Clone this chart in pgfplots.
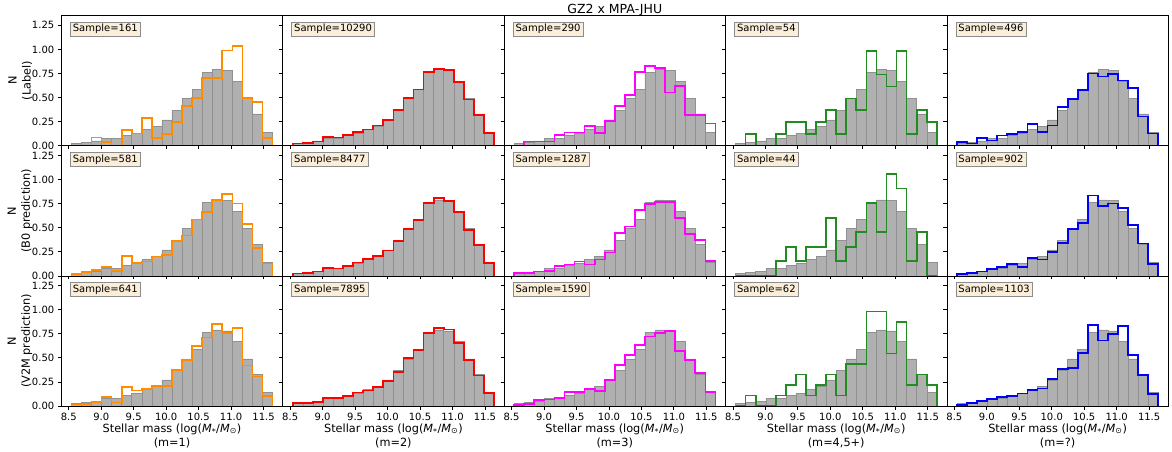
\documentclass[border=0pt]{standalone}
\usepackage{pgfplots}
\pgfplotsset{compat=1.18}
\usepackage{pgfplotstable}
\usepgfplotslibrary{groupplots}
\usepackage{fontspec}
\setmainfont{DejaVu Sans}

\definecolor{corange}{HTML}{FF8C00}
\definecolor{cred}{HTML}{FF0000}
\definecolor{cmag}{HTML}{FF00FF}
\definecolor{cgreen}{HTML}{228B22}
\definecolor{cblue}{HTML}{0000FF}
\definecolor{greyfill}{HTML}{B0B0B0}
\definecolor{greyedge}{HTML}{909090}
\definecolor{wheatbox}{HTML}{FAEED9}

% all galaxies (grey), left bin edges + last edge
\pgfplotstableread{
x      g
8.540  0.024
8.695  0.035
8.850  0.050
9.005  0.080
9.160  0.080
9.315  0.110
9.470  0.130
9.625  0.170
9.780  0.200
9.935  0.270
10.090 0.370
10.245 0.490
10.400 0.585
10.555 0.765
10.710 0.790
10.865 0.780
11.020 0.670
11.175 0.490
11.330 0.330
11.485 0.140
11.640 0.140
}\grey

% step histograms: l = Label, p = B0 prediction, v = V2M prediction; columns 1..5 = m
\pgfplotstableread{
x      l1    l2    l3    l4    l5    p1    p2    p3    p4    p5    v1    v2    v3    v4    v5
8.540  0     0     0     0     0     0     0     0     0     0     0     0     0     0     0
8.540  0     0.025 0     0     0.040 0.017 0.024 0.028 0     0.017 0.017 0.028 0.007 0     0.014
8.695  0     0.030 0.045 0.123 0.024 0.040 0.030 0.030 0     0.030 0.020 0.033 0.024 0.109 0.028
8.850  0.085 0.045 0.045 0     0.083 0.060 0.045 0.045 0     0.045 0.045 0.042 0.062 0     0.052
9.005  0.040 0.090 0.045 0     0.055 0.093 0.083 0.052 0     0.073 0.097 0.080 0.069 0     0.076
9.160  0     0.087 0.114 0.123 0.107 0.050 0.076 0.104 0.151 0.093 0.035 0.080 0.083 0.109 0.097
9.315  0.166 0.110 0.138 0.246 0.120 0.210 0.104 0.118 0.302 0.125 0.200 0.104 0.145 0.218 0.107
9.470  0.128 0.140 0.138 0.246 0.145 0.135 0.140 0.149 0.151 0.090 0.160 0.140 0.145 0.327 0.131
9.625  0.290 0.170 0.207 0.123 0.228 0.150 0.173 0.118 0.302 0.183 0.180 0.160 0.180 0.109 0.163
9.780  0.083 0.210 0.135 0.246 0.145 0.200 0.208 0.170 0.302 0.170 0.210 0.194 0.156 0.218 0.183
9.935  0.120 0.266 0.256 0.369 0.210 0.220 0.263 0.242 0.604 0.246 0.210 0.256 0.270 0.327 0.280
10.090 0.245 0.374 0.415 0.123 0.400 0.360 0.360 0.446 0.151 0.343 0.370 0.356 0.425 0.109 0.384
10.245 0.410 0.495 0.530 0.492 0.484 0.420 0.490 0.512 0.302 0.488 0.480 0.500 0.526 0.436 0.394
10.400 0.495 0.585 0.768 0.369 0.578 0.585 0.578 0.685 0.453 0.547 0.626 0.578 0.630 0.436 0.553
10.555 0.700 0.765 0.830 0.985 0.750 0.665 0.758 0.747 0.755 0.834 0.710 0.760 0.720 0.981 0.837
10.710 0.700 0.800 0.810 0.739 0.720 0.790 0.806 0.765 0.453 0.727 0.848 0.810 0.758 0.981 0.680
10.865 0.990 0.790 0.554 0.616 0.747 0.850 0.779 0.765 1.057 0.751 0.754 0.795 0.780 0.545 0.747
11.020 1.035 0.660 0.620 0.985 0.678 0.750 0.660 0.600 0.906 0.706 0.806 0.657 0.570 0.872 0.827
11.175 0.495 0.480 0.318 0.123 0.600 0.540 0.478 0.436 0.151 0.530 0.420 0.480 0.478 0.218 0.526
11.330 0.457 0.320 0.318 0.369 0.305 0.287 0.318 0.374 0.453 0.336 0.305 0.318 0.340 0.327 0.325
11.485 0.083 0.135 0.232 0.246 0.128 0.128 0.135 0.152 0     0.125 0.107 0.138 0.145 0.218 0.121
11.640 0.083 0.135 0.232 0.246 0.128 0.128 0.135 0.152 0     0.125 0.107 0.138 0.145 0.218 0.121
11.640 0     0     0     0     0     0     0     0     0     0     0     0     0     0     0
}\hist

\newcommand{\gry}{\addplot[ybar interval, fill=greyfill, draw=greyedge, line width=0.5pt] table[x=x,y=g]{\grey};}
\newcommand{\stp}[2]{\addplot[const plot mark left, draw=#1, line width=1.7pt, line join=miter] table[x=x,y=#2]{\hist};}
\newcommand{\samp}[1]{\node[anchor=north west, fill=wheatbox, draw=black!45, line width=0.8pt,
  inner xsep=2.5pt, inner ysep=2pt, font=\fontsize{10}{12}\selectfont] at (rel axis cs:0.039,0.952) {Sample=#1};}
\newcommand{\mlabel}[1]{Stellar mass (log(\textit{M}\textsubscript{*}/\textit{M}\textsubscript{⊙})\\(m=#1)}

\pgfplotsset{panel/.style={
  scale only axis, width=221.4pt, height=130.1pt,
  xmin=8.385, xmax=11.795, ymin=0, ymax=1.35,
  xtick={8.5,9,9.5,10,10.5,11,11.5}, ytick={0,0.25,0.5,0.75,1,1.25},
  tick pos=left, tick align=outside, major tick length=3.5pt,
  every tick/.style={black, line width=0.8pt},
  axis line style={black, line width=0.8pt},
  axis on top,
  /pgf/number format/assume math mode=true,
  x tick label style={/pgf/number format/.cd, fixed, fixed zerofill, precision=1},
  y tick label style={/pgf/number format/.cd, fixed, fixed zerofill, precision=2},
  tick label style={font=\fontsize{10}{12}\selectfont},
  label style={font=\fontsize{11.3}{14}\selectfont, align=center},
  xlabel style={yshift=4pt},
  ylabel style={yshift=-7pt},
}}

\begin{document}
\begin{tikzpicture}
\begin{groupplot}[group style={group size=5 by 3, horizontal sep=0pt, vertical sep=0pt,
    xticklabels at=edge bottom, yticklabels at=edge left}, panel]
% row 1: Label
\nextgroupplot[ylabel={N\\(Label)}]
\gry \stp{corange}{l1} \samp{161}
\nextgroupplot
\gry \stp{cred}{l2} \samp{10290}
\nextgroupplot
\gry \stp{cmag}{l3} \samp{290}
\nextgroupplot
\gry \stp{cgreen}{l4} \samp{54}
\nextgroupplot
\gry \stp{cblue}{l5} \samp{496}
% row 2: B0 prediction
\nextgroupplot[ylabel={N\\(B0 prediction)}]
\gry \stp{corange}{p1} \samp{581}
\nextgroupplot
\gry \stp{cred}{p2} \samp{8477}
\nextgroupplot
\gry \stp{cmag}{p3} \samp{1287}
\nextgroupplot
\gry \stp{cgreen}{p4} \samp{44}
\nextgroupplot
\gry \stp{cblue}{p5} \samp{902}
% row 3: V2M prediction
\nextgroupplot[ylabel={N\\(V2M prediction)}, xlabel={\mlabel{1}}]
\gry \stp{corange}{v1} \samp{641}
\nextgroupplot[xlabel={\mlabel{2}}]
\gry \stp{cred}{v2} \samp{7895}
\nextgroupplot[xlabel={\mlabel{3}}]
\gry \stp{cmag}{v3} \samp{1590}
\nextgroupplot[xlabel={\mlabel{4,5+}}]
\gry \stp{cgreen}{v4} \samp{62}
\nextgroupplot[xlabel={\mlabel{?}}]
\gry \stp{cblue}{v5} \samp{1103}
\end{groupplot}
\node[anchor=base, font=\fontsize{12.5}{15}\selectfont] at ([yshift=2.5pt]group c3r1.north) {GZ2 x MPA-JHU};
\pgfresetboundingbox
\path[use as bounding box] ([xshift=-61.3pt,yshift=15.7pt]group c1r1.north west) rectangle ++(1172pt,-452pt);
\end{tikzpicture}
\end{document}
